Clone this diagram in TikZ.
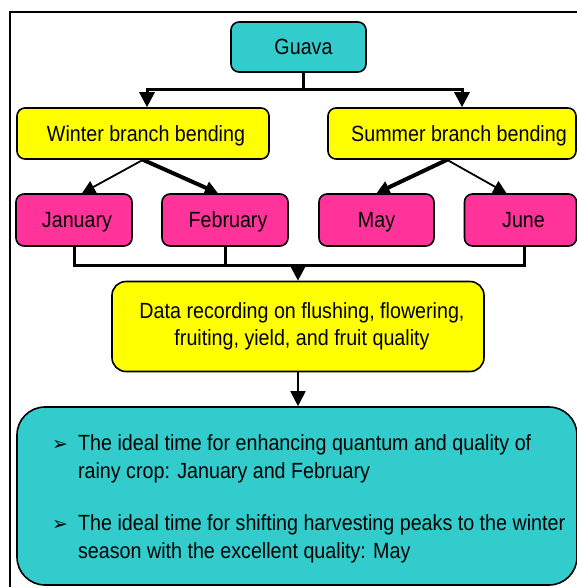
\documentclass[tikz,border=0pt]{standalone}
\usepackage{fontspec}
\setmainfont{Liberation Sans}[FakeStretch=0.895]
\newfontfamily\dingfont{DejaVu Sans}
\usetikzlibrary{arrows.meta,positioning}

\definecolor{guavacyan}{HTML}{33CCCC}
\definecolor{guavayellow}{HTML}{FFFF00}
\definecolor{guavapink}{HTML}{FF3399}

\begin{document}
\begin{tikzpicture}[
  x=1pt, y=-1pt,
  every node/.style={font=\fontsize{22}{27.5}\selectfont},
  box/.style={draw, rounded corners=8pt, line width=1.6pt, inner sep=0pt},
  label/.style={text height=19pt, text depth=4pt},
  link/.style={draw, line width=3pt},
  thinlink/.style={draw, line width=1.8pt},
  tip/.style={-{Triangle[width=15pt,length=15pt]}},
  smalltip/.style={-{Triangle[width=13pt,length=13pt]}}
]
\useasboundingbox (0,0) rectangle (577,587);
% outer frame
\draw[line width=1.4pt] (10,587) -- (10,12) -- (577,12);

\node[box, label, fill=guavacyan, minimum width=135pt, minimum height=50pt] (guava) at (298.5,47) {\hspace{10pt}Guava};
\node[box, label, fill=guavayellow, minimum width=252pt, minimum height=51pt] (winter) at (143,133.5) {\hspace{6pt}Winter branch bending};
\node[box, label, fill=guavayellow, minimum width=248pt, minimum height=51pt] (summer) at (452,133.5) {\hspace{14pt}Summer branch bending};

\node[box, label, fill=guavapink, minimum width=116pt, minimum height=52pt] (jan) at (74,220) {\hspace{6pt}January};
\node[box, label, fill=guavapink, minimum width=126pt, minimum height=52pt] (feb) at (225,220) {\hspace{6pt}February};
\node[box, label, fill=guavapink, minimum width=115pt, minimum height=52pt] (may) at (376.5,220) {May};
\node[box, label, fill=guavapink, minimum width=112pt, minimum height=52pt] (jun) at (520.5,220) {\hspace{6pt}June};

\node[box, fill=guavayellow, rounded corners=14pt, minimum width=372pt, minimum height=90pt, align=center] (data) at (298,326.5)
  {\hspace{8pt}Data recording on flushing, flowering,\\\hspace{8pt}fruiting, yield, and fruit quality};

\node[box, fill=guavacyan, rounded corners=28pt, minimum width=560pt, minimum height=178pt] (result) at (297,496) {};
\node[anchor=west, inner sep=0pt] (findings) at (52,499) {%
  \begin{tabular}{@{}l@{\hspace{10pt}}l@{}}
  {\dingfont\fontsize{19}{19}\selectfont ➢} & The ideal time for enhancing quantum and quality of\\
   & rainy crop: January and February\\[25pt]
  {\dingfont\fontsize{19}{19}\selectfont ➢} & The ideal time for shifting harvesting peaks to the winter\\
   & season with the excellent quality: May
  \end{tabular}};

% guava to the two seasons
\draw[link] ([xshift=5pt]guava.south) -- ++(0,17) coordinate (gsplit);
\draw[link, tip] (gsplit) -| ([xshift=4pt]winter.north);
\draw[link, tip] (gsplit) -| ([xshift=10pt]summer.north);

% seasons to months
\draw[thinlink, smalltip] (winter.south) -- ([xshift=8pt]jan.north);
\draw[line width=4pt, smalltip] (winter.south) -- ([xshift=-7pt]feb.north);
\draw[line width=4pt, smalltip] ([xshift=-5pt]summer.south) -- (may.north);
\draw[thinlink, smalltip] ([xshift=-5pt]summer.south) -- ([xshift=-14pt]jun.north);

% months to data recording
\draw[link] (jan.south) -- ++(0,19) coordinate (jbot) -| ([xshift=4pt]jun.south);
\draw[link] (feb.south) -- (feb.south |- jbot);
\draw[link, tip] (data.north |- jbot) -- (data.north);

% data recording to findings
\draw[thinlink, tip] (data.south) -- (data.south |- result.north);
\end{tikzpicture}
\end{document}
